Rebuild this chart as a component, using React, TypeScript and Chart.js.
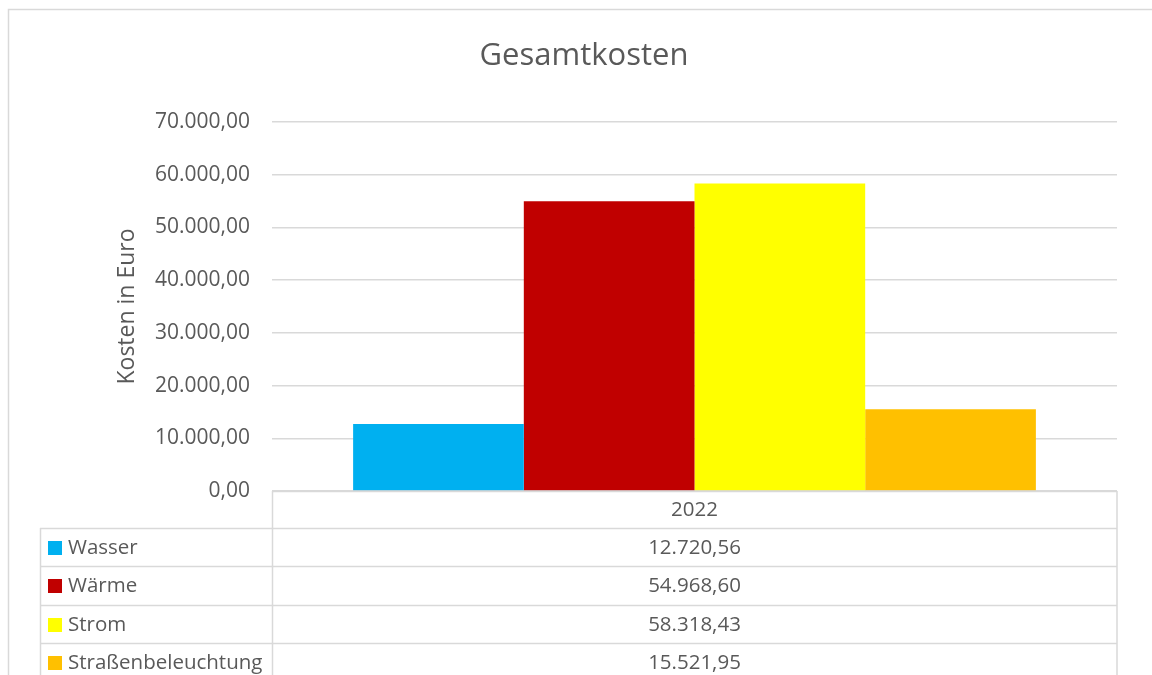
import React, { useEffect, useRef } from "react";
import { Chart, registerables } from "chart.js";

Chart.register(...registerables);

const chartTitle = "Gesamtkosten";
const axisTitle = "Kosten in Euro";
const categories = ["2022"];
const seriesNames = ["Wasser", "Wärme", "Strom", "Straßenbeleuchtung"];
const seriesColors = ["#00B0F0", "#C00000", "#FFFF00", "#FFC000"];
const wasser = [12720.56];
const waerme = [54968.6];
const strom = [58318.43];
const strassen = [15521.95];
const seriesValues = [wasser, waerme, strom, strassen];
const yTicks = [0, 10000, 20000, 30000, 40000, 50000, 60000, 70000];

const FONT = "'Open Sans', 'Noto Sans', sans-serif";
const TEXT = "#595959";
const LINE = "#d9d9d9";

function fmt(v: number): string {
  const neg = v < 0;
  const fixed = Math.abs(v).toFixed(2);
  const [intPart, dec] = fixed.split(".");
  const withDots = intPart.replace(/\B(?=(\d{3})+(?!\d))/g, ".");
  return (neg ? "-" : "") + withDots + "," + dec;
}

const tablePlugin = {
  id: "dataTable",
  afterDraw(chart: any) {
    const { ctx, chartArea } = chart;
    const left = chartArea.left;
    const right = chartArea.right;
    const top = chartArea.bottom;
    const headerH = 37;
    const rowH = 38.3;
    const tableLeft = 40;
    const bottomEdge = chart.height + 20;
    ctx.save();
    ctx.strokeStyle = LINE;
    ctx.lineWidth = 1.5;
    // outer chart border
    ctx.strokeRect(8.5, 9.5, 1300, 800);
    ctx.beginPath();
    ctx.moveTo(left, top + 0.5);
    ctx.lineTo(right, top + 0.5);
    ctx.moveTo(left + 0.5, top);
    ctx.lineTo(left + 0.5, bottomEdge);
    ctx.moveTo(right, top);
    ctx.lineTo(right, bottomEdge);
    ctx.moveTo(tableLeft + 0.5, top + headerH);
    ctx.lineTo(tableLeft + 0.5, bottomEdge);
    for (let i = 0; i < seriesNames.length; i++) {
      const y = Math.round(top + headerH + i * rowH) + 0.5;
      ctx.moveTo(tableLeft, y);
      ctx.lineTo(right, y);
    }
    ctx.stroke();

    // chart title
    ctx.fillStyle = TEXT;
    ctx.font = `31px ${FONT}`;
    ctx.textAlign = "center";
    ctx.textBaseline = "alphabetic";
    ctx.fillText(chartTitle, 584, 65);

    const cx = (left + right) / 2;
    ctx.font = `20.5px ${FONT}`;
    ctx.textBaseline = "middle";
    ctx.textAlign = "center";
    ctx.fillText(categories[0], cx, top + headerH / 2 + 1);
    for (let i = 0; i < seriesNames.length; i++) {
      const cy = top + headerH + i * rowH + rowH / 2 + 1;
      ctx.textAlign = "center";
      ctx.fillStyle = TEXT;
      ctx.fillText(fmt(seriesValues[i][0]), cx, cy);
      ctx.fillStyle = seriesColors[i];
      ctx.fillRect(48, Math.round(cy - 7), 14, 14);
      ctx.fillStyle = TEXT;
      ctx.textAlign = "left";
      ctx.fillText(seriesNames[i], 68, cy);
    }
    ctx.restore();
  },
};

export default function App() {
  const ref = useRef<HTMLCanvasElement | null>(null);
  useEffect(() => {
    if (!ref.current) return;
    const chart = new Chart(ref.current, {
      type: "bar",
      data: {
        labels: categories,
        datasets: seriesNames.map((name, i) => ({
          label: name,
          data: seriesValues[i],
          backgroundColor: seriesColors[i],
          borderWidth: 0,
          categoryPercentage: 0.808,
          barPercentage: 1,
        })),
      },
      options: {
        animation: false,
        responsive: false,
        devicePixelRatio: 1,
        layout: { padding: { left: 100, right: 35, top: 122, bottom: 184 } },
        plugins: {
          legend: { display: false },
          tooltip: { enabled: false },
          title: { display: false },
        },
        scales: {
          x: { display: false },
          y: {
            min: 0,
            max: 70000,
            afterBuildTicks: (scale: any) => {
              scale.ticks = yTicks.map((v) => ({ value: v }));
            },
            afterFit: (scale: any) => {
              scale.width = 172;
            },
            ticks: {
              color: TEXT,
              padding: 22,
              font: { family: FONT, size: 21 },
              callback: (v: any) => fmt(Number(v)),
            },
            grid: { color: LINE, lineWidth: 1.5, drawTicks: false },
            border: { display: false },
            title: {
              display: true,
              text: axisTitle,
              color: TEXT,
              font: { family: FONT, size: 23 },
              padding: { top: 14, bottom: 0 },
            },
          },
        },
      },
      plugins: [tablePlugin],
    } as any);
    return () => chart.destroy();
  }, []);
  return (
    <div style={{ position: "absolute", left: 0, top: 0, width: 1152, height: 675, background: "#fff" }}>
      <canvas ref={ref} width={1152} height={675} />
    </div>
  );
}
